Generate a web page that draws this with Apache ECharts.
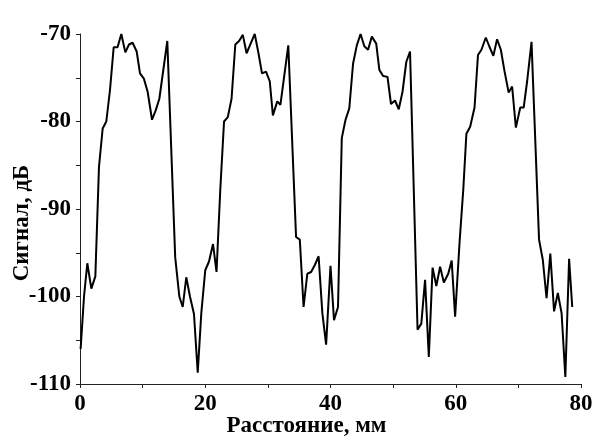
<!DOCTYPE html>
<html lang="ru">
<head>
    <meta charset="UTF-8">
    <title>Сигнал</title>
    <script src="https://cdn.jsdelivr.net/npm/echarts@6/dist/echarts.min.js"></script>
    <style>
        html, body { margin: 0; padding: 0; background: #fff; }
    </style>
</head>
<body>
    <div id="main" style="width: 595px;height:441px;"></div>
    <script>
        // расстояние, мм
        var dist = [
            0.1, 0.64, 1.17, 1.81, 2.45, 3.03, 3.62, 4.2, 4.79, 5.38, 6.0, 6.6, 7.24, 7.82, 8.4, 9.05, 9.58, 10.2, 10.8, 11.5,
            12.1, 12.67, 13.94, 15.2, 15.86, 16.4, 16.97, 17.56, 18.2, 18.8, 19.37, 20.0, 20.6, 21.24, 21.8, 22.4, 23.0, 23.6, 24.2, 24.8,
            25.4, 26.0, 26.6, 27.25, 27.9, 28.5, 29.06, 29.7, 30.3, 30.8, 31.5, 32.0, 33.26, 34.5, 35.1, 35.7, 36.3, 36.9, 37.5, 38.1,
            38.7, 39.3, 40.0, 40.56, 41.2, 41.8, 42.4, 43.0, 43.6, 44.2, 44.8, 45.4, 46.0, 46.6, 47.3, 47.8, 48.4, 49.1, 49.66, 50.3,
            50.9, 51.5, 52.1, 52.7, 53.9, 54.5, 55.1, 55.7, 56.3, 56.9, 57.5, 58.1, 58.8, 59.35, 59.9, 60.6, 61.2, 61.7, 62.3, 63.0,
            63.55, 64.1, 64.8, 65.35, 66.0, 66.6, 67.2, 67.8, 68.45, 69.0, 69.6, 70.3, 70.85, 71.4, 72.1, 73.3, 73.9, 74.5, 75.1, 75.7,
            76.3, 76.9, 77.5, 78.1, 78.6
        ];
        // сигнал, дБ
        var signal = [
            -106, -100.0, -96.2, -99.1, -97.7, -85.2, -80.8, -80.0, -76.4, -71.5, -71.5, -70.0, -72.1, -71.2, -71.0, -72.0, -74.5, -75.1, -76.6, -79.8,
            -78.7, -77.4, -70.8, -95.5, -100.0, -101.2, -97.8, -100.0, -102.0, -108.7, -101.9, -97.0, -96.0, -94.0, -97.2, -87.8, -80.0, -79.5, -77.4, -71.2,
            -70.8, -70.1, -72.2, -71.1, -70.0, -72.2, -74.5, -74.3, -75.4, -79.3, -77.7, -78.1, -71.3, -93.2, -93.5, -101.2, -97.4, -97.2, -96.4, -95.4,
            -101.9, -105.5, -96.5, -102.7, -101.2, -81.9, -79.8, -78.5, -73.4, -71.3, -70.0, -71.4, -71.8, -70.3, -71.1, -74.1, -74.8, -74.9, -78.0, -77.6,
            -78.6, -76.6, -73.2, -72.0, -103.8, -103.1, -98.1, -106.9, -96.7, -98.8, -96.6, -98.4, -97.4, -95.9, -102.3, -93.9, -87.8, -81.4, -80.6, -78.4,
            -72.4, -71.8, -70.4, -71.4, -72.5, -70.6, -71.8, -74.3, -76.7, -76.0, -80.7, -78.4, -78.4, -75.4, -70.9, -93.5, -95.8, -100.2, -95.1, -101.7,
            -99.6, -101.9, -109.2, -95.7, -101.2
        ];

        var points = [];
        for (var i = 0; i < dist.length; i++) {
            points.push([dist[i], signal[i]]);
        }

        var fontFam = '"Liberation Serif", "Times New Roman", serif';
        var axisCol = '#222';
        var fs = 23;

        var myChart = echarts.init(document.getElementById('main'));

        var option = {
            animation: false,
            backgroundColor: '#fff',
            grid: {
                left: 80,
                right: 14,
                top: 34,
                bottom: 57,
                outerBoundsMode: 'none'
            },
            xAxis: {
                type: 'value',
                min: 0,
                max: 80,
                interval: 20,
                name: 'Расстояние, мм',
                nameLocation: 'middle',
                nameGap: 31,
                nameMoveOverlap: false,
                nameTextStyle: { fontFamily: fontFam, fontWeight: 'bold', fontSize: fs, color: '#000', verticalAlign: 'top', padding: [0, 48, 0, 0] },
                axisLine: { lineStyle: { color: axisCol, width: 1 } },
                axisTick: { inside: false, length: 4, lineStyle: { color: axisCol } },
                minorTick: { show: true, splitNumber: 2, length: 4, lineStyle: { color: axisCol } },
                axisLabel: { margin: 9, fontFamily: fontFam, fontWeight: 'bold', fontSize: fs, color: '#000' },
                splitLine: { show: false }
            },
            yAxis: {
                type: 'value',
                min: -110,
                max: -70,
                interval: 10,
                name: 'Сигнал, дБ',
                nameLocation: 'middle',
                nameGap: 46,
                nameMoveOverlap: false,
                nameTextStyle: { fontFamily: fontFam, fontWeight: 'bold', fontSize: fs, color: '#000', padding: [0, 28, 0, 0] },
                axisLine: { show: true, lineStyle: { color: axisCol, width: 1 } },
                axisTick: { show: true, inside: false, length: 4, lineStyle: { color: axisCol } },
                minorTick: { show: true, splitNumber: 2, length: 4, lineStyle: { color: axisCol } },
                axisLabel: { margin: 9, fontFamily: fontFam, fontWeight: 'bold', fontSize: fs, color: '#000' },
                splitLine: { show: false }
            },
            series: [
                {
                    type: 'line',
                    data: points,
                    showSymbol: false,
                    lineStyle: { color: '#000', width: 2 },
                    clip: false
                }
            ]
        };
        myChart.setOption(option);
    </script>
</body>
</html>
